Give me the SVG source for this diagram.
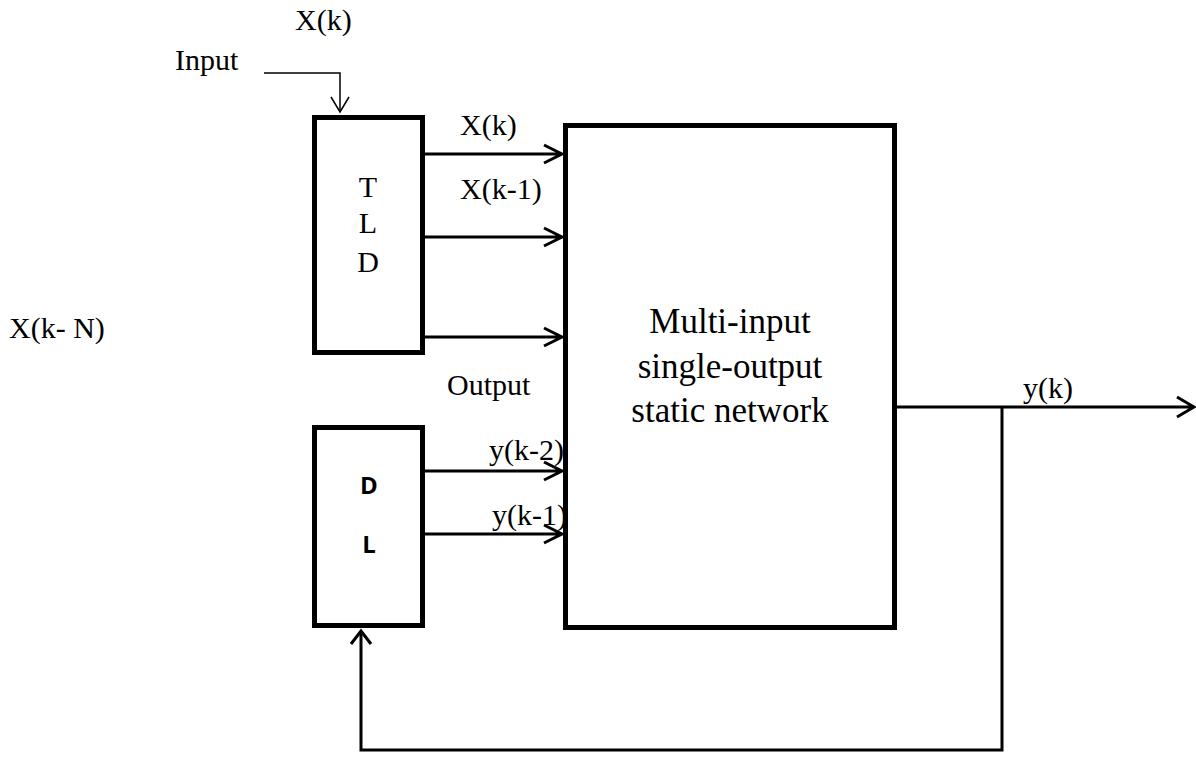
<svg xmlns="http://www.w3.org/2000/svg" width="1196" height="783" viewBox="0 0 1196 783">
<style>
.box{fill:#fff;stroke:#000;stroke-width:5}
.t{font-family:"Liberation Serif","Times New Roman",serif;font-size:30px;fill:#000}
.big{font-family:"Liberation Serif","Times New Roman",serif;font-size:35px;fill:#000;text-anchor:middle}
.b{font-family:"Open Sans","Liberation Sans",Arial,sans-serif;font-size:24px;font-weight:bold;fill:#000;text-anchor:middle}
.ln{fill:none;stroke:#000;stroke-width:3}
.thin{fill:none;stroke:#000;stroke-width:1.5}
</style>
<rect width="1196" height="783" fill="#fff"/>
<g id="connectors">
<path class="thin" d="M264,73 H340 V112"/>
<path class="thin" d="M331,97 L340,112 L349,97"/>
<path class="ln" d="M425,154 H562 M544,145 L562,154 L544,163"/>
<path class="ln" d="M425,237 H562 M544,228 L562,237 L544,246"/>
<path class="ln" d="M425,337 H562 M544,328 L562,337 L544,346"/>
<path class="ln" d="M425,471 H562 M544,462 L562,471 L544,480"/>
<path class="ln" d="M425,534 H562 M544,525 L562,534 L544,543"/>
<path class="ln" d="M897,407 H1194 M1177,397 L1194,407 L1177,417"/>
<path class="ln" d="M1002,407 V750 H361 V631"/>
<path class="ln" d="M351,644 L361,631 L371,644"/>
</g>
<g id="tld">
<rect class="box" x="314.5" y="117.5" width="108" height="235"/>
<text class="t" x="368" y="197" text-anchor="middle">T</text>
<text class="t" x="368" y="233" text-anchor="middle">L</text>
<text class="t" x="368" y="272" text-anchor="middle">D</text>
</g>
<g id="dl">
<rect class="box" x="314.5" y="427.5" width="108" height="198"/>
<text class="b" x="369" y="494">D</text>
<text class="b" x="369" y="553">L</text>
</g>
<g id="network">
<rect class="box" x="565.5" y="125.5" width="329" height="502"/>
<text class="big" x="730" y="333">Multi-input</text>
<text class="big" x="730" y="378">single-output</text>
<text class="big" x="730" y="422">static network</text>
</g>
<g id="labels">
<text class="t" x="295" y="30">X(k)</text>
<text class="t" x="175" y="70">Input</text>
<text class="t" x="460" y="135">X(k)</text>
<text class="t" x="460" y="199">X(k-1)</text>
<text class="t" x="9" y="338">X(k- N)</text>
<text class="t" x="447" y="395">Output</text>
<text class="t" x="489" y="460">y(k-2)</text>
<text class="t" x="492" y="525">y(k-1)</text>
<text class="t" x="1023" y="398">y(k)</text>
</g>
</svg>
